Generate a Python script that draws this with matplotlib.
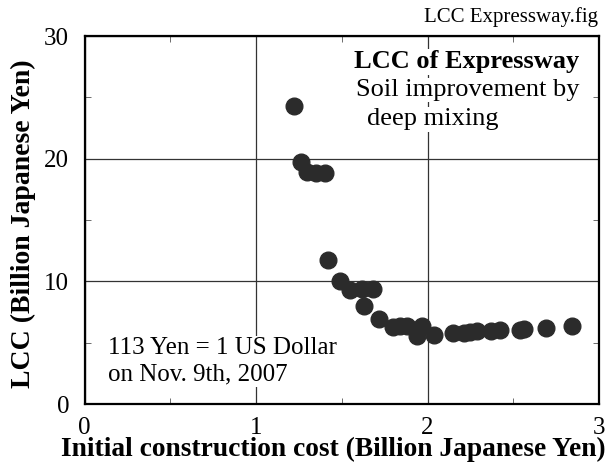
import matplotlib
matplotlib.use('Agg')
import matplotlib.pyplot as plt
from matplotlib.ticker import MultipleLocator

plt.rcParams['font.family'] = 'Liberation Serif'

# initial construction cost vs LCC (billion yen)
cost = [1.22, 1.26, 1.30, 1.35, 1.40, 1.42, 1.49, 1.55, 1.62, 1.68, 1.63, 1.72,
        1.80, 1.84, 1.88, 1.94, 1.97, 2.04, 2.15, 2.21, 2.25, 2.29, 2.37, 2.42,
        2.54, 2.56, 2.69, 2.84]
lcc = [24.3, 19.7, 18.9, 18.85, 18.85, 11.7, 10.0, 9.3, 9.4, 9.4, 8.0, 6.95,
       6.3, 6.4, 6.4, 5.55, 6.4, 5.65, 5.75, 5.75, 5.85, 5.95, 5.95, 6.0,
       6.05, 6.1, 6.2, 6.4]

fig = plt.figure(figsize=(6.15, 4.63), dpi=100)
ax = fig.add_axes([0.1374, 0.1274, 0.8366, 0.7948])

ax.plot(cost, lcc, 'o', color='#2b2b2b', markersize=12, zorder=4)

ax.set_xlim(0, 3)
ax.set_ylim(0, 30)
ax.xaxis.set_major_locator(MultipleLocator(1))
ax.xaxis.set_minor_locator(MultipleLocator(0.5))
ax.yaxis.set_major_locator(MultipleLocator(10))
ax.yaxis.set_minor_locator(MultipleLocator(5))
ax.tick_params(which='both', direction='in', top=True, right=True,
               labelsize=18, color='#555555')
ax.tick_params(which='major', length=0)
ax.tick_params(axis='y', which='major', pad=11)
ax.tick_params(axis='x', which='major', pad=9)
ax.tick_params(which='minor', length=4)
ax.grid(True, which='major', color='#333333', linewidth=0.9, zorder=1)
for s in ax.spines.values():
    s.set_linewidth(1.6)
    s.set_zorder(5)

ax.set_xlabel('Initial construction cost (Billion Japanese Yen)',
              fontsize=19.8, fontweight='bold', labelpad=0)
ax.set_ylabel('LCC (Billion Japanese Yen)', fontsize=20, fontweight='bold')
ax.yaxis.set_label_coords(-0.094, 0.49)
ax.xaxis.set_label_coords(0.484, -0.09)

box = dict(facecolor='white', edgecolor='none', pad=1)
ax.text(0.962, 0.93, 'LCC of Expressway', transform=ax.transAxes,
        fontsize=19, fontweight='bold', ha='right', va='center', bbox=box,
        zorder=3)
ax.text(0.962, 0.853, 'Soil improvement by', transform=ax.transAxes,
        fontsize=19, ha='right', va='center', bbox=box, zorder=3)
ax.text(0.549, 0.774, 'deep mixing', transform=ax.transAxes, fontsize=19,
        ha='left', va='center', bbox=box, zorder=3)

ax.text(0.046, 0.1155, '113 Yen = 1 US Dollar\non Nov. 9th, 2007',
        transform=ax.transAxes, fontsize=18, ha='left', va='center',
        linespacing=1.26, bbox=box, zorder=3)

fig.text(0.973, 0.963, 'LCC Expressway.fig', fontsize=15, ha='right',
         va='center')

fig.savefig('out.png', dpi=100)
